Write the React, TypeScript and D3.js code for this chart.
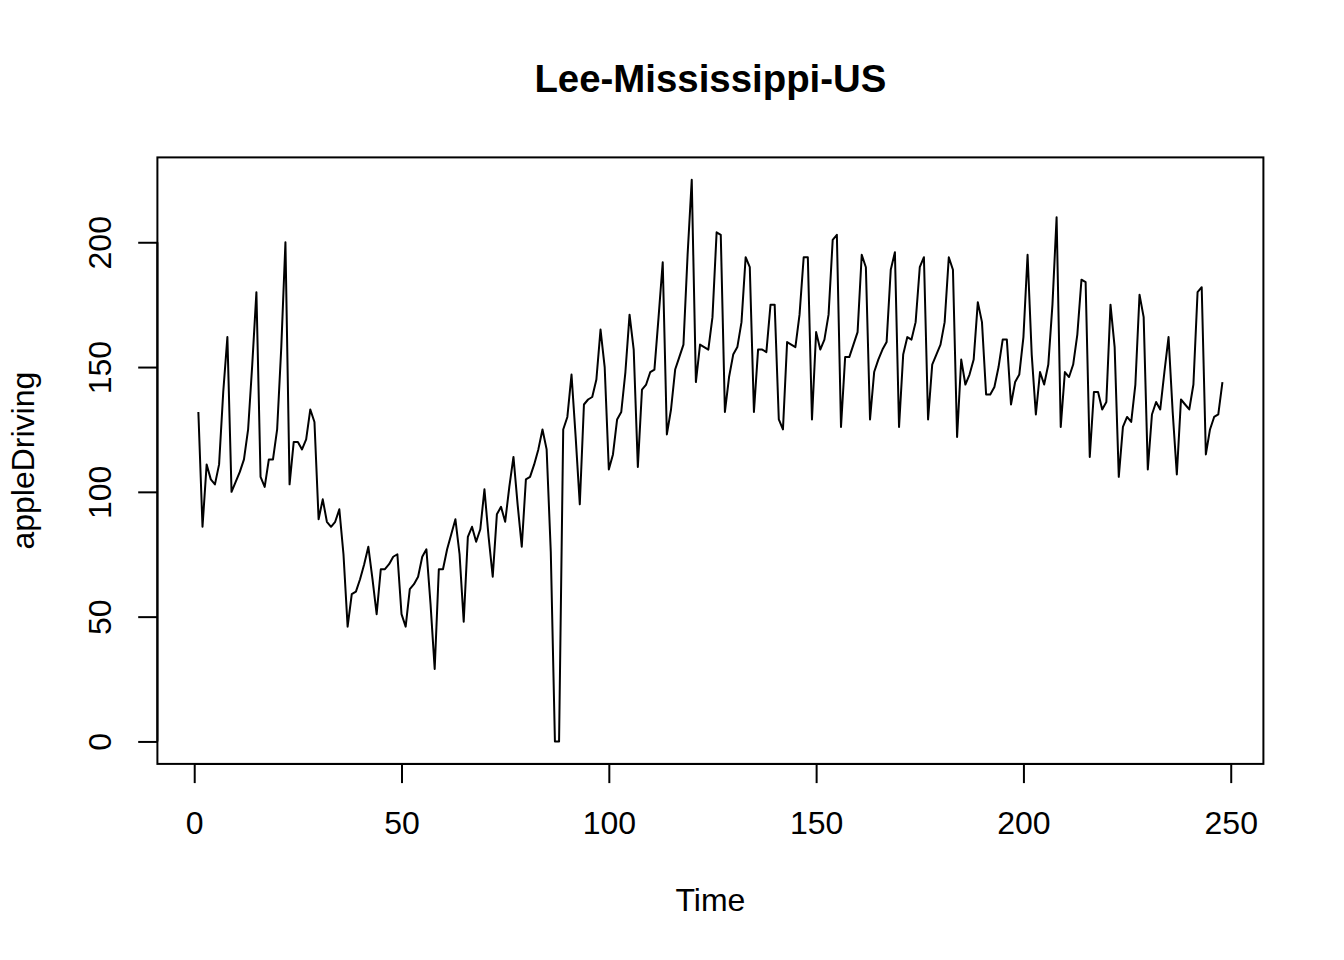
import React, { useRef, useEffect } from 'react';
import { select, scaleLinear, line, extent, axisBottom, axisLeft } from 'd3';

// daily apple mobility driving index, t = 1..248
const appleDriving = [
    132, 86, 111, 105, 103, 111, 140, 162, 100, 104, 108, 113, 125, 151, 180, 106, 102, 113, 113, 125,
    158, 200, 103, 120, 120, 117, 121, 133, 128, 89, 97, 88, 86, 88, 93, 75, 46, 59, 60, 65,
    71, 78, 65, 51, 69, 69, 71, 74, 75, 51, 46, 61, 63, 66, 74, 77, 55, 29, 69, 69,
    77, 83, 89, 75, 48, 82, 86, 80, 85, 101, 82, 66, 91, 94, 88, 102, 114, 95, 78, 105,
    106, 111, 117, 125, 117, 76, 0, 0, 125, 130, 147, 122, 95, 135, 137, 138, 145, 165, 150, 109,
    115, 129, 132, 148, 171, 157, 110, 141, 143, 148, 149, 170, 192, 123, 133, 149, 154, 159, 195, 225,
    144, 159, 158, 157, 170, 204, 203, 132, 146, 155, 158, 168, 194, 190, 132, 157, 157, 156, 175, 175,
    129, 125, 160, 159, 158, 171, 194, 194, 129, 164, 157, 161, 171, 201, 203, 126, 154, 154, 159, 164,
    195, 190, 129, 148, 153, 157, 160, 189, 196, 126, 155, 162, 161, 168, 190, 194, 129, 151, 155, 159,
    168, 194, 189, 122, 153, 143, 147, 153, 176, 168, 139, 139, 142, 150, 161, 161, 135, 144, 147, 162,
    195, 155, 131, 148, 143, 151, 175, 210, 126, 148, 146, 151, 163, 185, 184, 114, 140, 140, 133, 136,
    175, 158, 106, 126, 130, 128, 143, 179, 170, 109, 131, 136, 133, 148, 162, 132, 107, 137, 135, 133,
    143, 180, 182, 115, 125, 130, 131, 144,
];
const xTicks = [0, 50, 100, 150, 200, 250];
const yTicks = [0, 50, 100, 150, 200];
const title = 'Lee-Mississippi-US';
const xLabel = 'Time';
const yLabel = 'appleDriving';

const W = 1344;
const H = 960;
const box = { left: 157.4, right: 1263.4, top: 157.4, bottom: 763.9 };
const font = '"Liberation Sans", Arial, sans-serif';

// R style 4% padding on each side
function padded(lo: number, hi: number): [number, number] {
    const d = (hi - lo) * 0.04;
    return [lo - d, hi + d];
}

export default function App() {
    const svgRef: { current: SVGSVGElement | null } = useRef(null);

    useEffect(() => {
        const svg = select(svgRef.current);
        svg.selectAll('*').remove();

        const pts = appleDriving.map((v, i) => [i + 1, v] as [number, number]);
        const [ylo, yhi] = extent(appleDriving) as [number, number];

        const x: any = scaleLinear().domain(padded(1, appleDriving.length)).range([box.left, box.right]);
        const y: any = scaleLinear().domain(padded(ylo, yhi)).range([box.bottom, box.top]);

        svg.append('rect')
            .attr('width', W)
            .attr('height', H)
            .attr('fill', '#fff');

        const myLine: any = line()
            .x((d) => x(d[0]))
            .y((d) => y(d[1]));

        svg.append('path')
            .datum(pts)
            .attr('d', myLine)
            .attr('fill', 'none')
            .attr('stroke', '#000')
            .attr('stroke-width', 2)
            .attr('stroke-linejoin', 'round');

        svg.append('rect')
            .attr('x', box.left)
            .attr('y', box.top)
            .attr('width', box.right - box.left)
            .attr('height', box.bottom - box.top)
            .attr('fill', 'none')
            .attr('stroke', '#000')
            .attr('stroke-width', 2);

        // x axis
        const xAxis: any = axisBottom(x).tickValues(xTicks).tickSize(19.2).tickSizeOuter(0).tickPadding(0);
        const gx = svg.append('g').attr('transform', `translate(0,${box.bottom})`).call(xAxis);
        gx.select('.domain')
            .attr('d', `M${x(xTicks[0])},0H${x(xTicks[xTicks.length - 1])}`)
            .attr('stroke-width', 2);
        gx.selectAll('.tick line').attr('stroke-width', 2);
        gx.selectAll('.tick text')
            .attr('y', 834 - box.bottom)
            .attr('dy', null)
            .attr('font-family', font)
            .attr('font-size', 32)
            .attr('fill', '#000');

        // y axis, labels rotated like R's las = 0
        const yAxis: any = axisLeft(y).tickValues(yTicks).tickSize(19.2).tickSizeOuter(0).tickPadding(0);
        const gy = svg.append('g').attr('transform', `translate(${box.left},0)`).call(yAxis);
        gy.select('.domain')
            .attr('d', `M0,${y(yTicks[0])}V${y(yTicks[yTicks.length - 1])}`)
            .attr('stroke-width', 2);
        gy.selectAll('.tick line').attr('stroke-width', 2);
        gy.selectAll('.tick text')
            .attr('x', null)
            .attr('dy', null)
            .attr('transform', `translate(${111 - box.left},0) rotate(-90)`)
            .attr('text-anchor', 'middle')
            .attr('font-family', font)
            .attr('font-size', 32)
            .attr('fill', '#000');
        svg.selectAll('.domain').attr('fill', 'none');

        const cx = (box.left + box.right) / 2;
        const cy = (box.top + box.bottom) / 2;

        svg.append('text')
            .attr('x', cx)
            .attr('y', 92.3)
            .attr('text-anchor', 'middle')
            .attr('font-family', font)
            .attr('font-weight', 'bold')
            .attr('font-size', 38.4)
            .text(title);

        svg.append('text')
            .attr('x', cx)
            .attr('y', 911)
            .attr('text-anchor', 'middle')
            .attr('font-family', font)
            .attr('font-size', 32)
            .text(xLabel);

        svg.append('text')
            .attr('transform', `translate(34,${cy}) rotate(-90)`)
            .attr('text-anchor', 'middle')
            .attr('font-family', font)
            .attr('font-size', 32)
            .text(yLabel);
    }, []);

    return (
        <svg
            ref={svgRef}
            width={W}
            height={H}
            style={{ display: 'block', position: 'absolute', left: 0, top: 0 }}
        />
    );
}
